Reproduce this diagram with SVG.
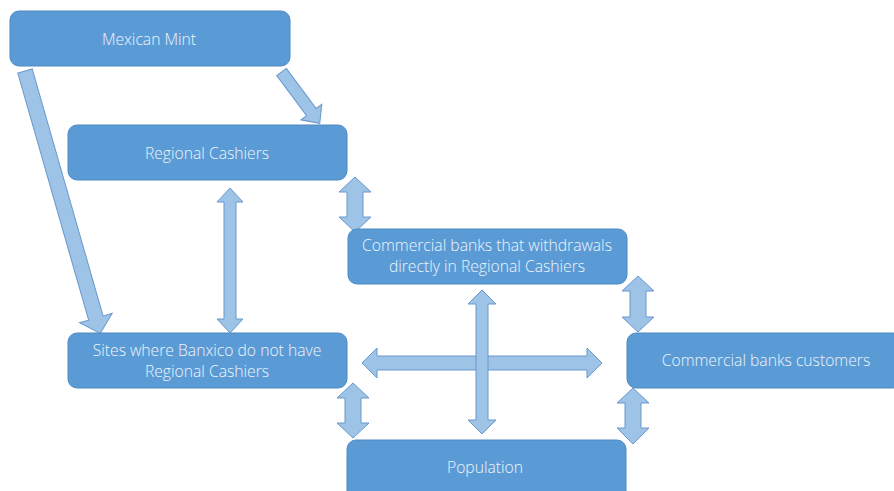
<svg xmlns="http://www.w3.org/2000/svg" width="894" height="491" viewBox="0 0 894 491">
<style>
.box{fill:#5b9bd5;stroke:#4e89c2;stroke-width:1}
.t{font-family:"Open Sans","Liberation Sans",Arial,sans-serif;font-size:15.7px;font-weight:300;fill:#eef4fb;text-anchor:middle}
.ar{fill:#9dc3e6;stroke:#6a98cc;stroke-width:1;stroke-linejoin:miter}
</style>
<rect width="894" height="491" fill="#ffffff"/>
<g id="connectors">
<polygon class="ar" transform="translate(281.5,72) rotate(53.3)" points="0,-6 50,-6 50,-13 64,0 50,13 50,6 0,6"/>
<polygon class="ar" transform="translate(25,71) rotate(74)" points="0,-7.5 257,-7.5 257,-17 273,0 257,17 257,7.5 0,7.5"/>
<polygon class="ar" points="230,188 243,202 236,202 236,319 243,319 230,333 217,319 224,319 224,202 217,202"/>
<polygon class="ar" points="355,177 371,192 363,192 363,217 371,217 355,232 339,217 347,217 347,192 339,192"/>
<polygon class="ar" points="638,276 654,291 646,291 646,317 654,317 638,332 622,317 630,317 630,291 622,291"/>
<polygon class="ar" points="633,388 649,403 641,403 641,428 649,428 633,444 617,428 625,428 625,403 617,403"/>
<polygon class="ar" points="353,383 369,398 361,398 361,423 369,423 353,438 337,423 345,423 345,398 337,398"/>
<polygon class="ar" points="362,363 377,348 377,356 587,356 587,348 602,363 587,378 587,370 377,370 377,378"/>
<polygon class="ar" points="482,290 496,304 488,304 488,420 496,420 482,434 468,420 476,420 476,304 468,304"/>
</g>
<g id="mint">
<rect class="box" x="10" y="11" width="280" height="55" rx="9"/>
<text class="t" x="149" y="45">Mexican Mint</text>
</g>
<g id="regional">
<rect class="box" x="68" y="125" width="279" height="55" rx="9"/>
<text class="t" x="207" y="159">Regional Cashiers</text>
</g>
<g id="commercial-withdrawals">
<rect class="box" x="348" y="229" width="279" height="55" rx="9"/>
<text class="t" x="487" y="251">Commercial banks that withdrawals</text>
<text class="t" x="487" y="272">directly in Regional Cashiers</text>
</g>
<g id="sites">
<rect class="box" x="68" y="333" width="279" height="55" rx="9"/>
<text class="t" x="207" y="356">Sites where Banxico do not have</text>
<text class="t" x="207" y="377">Regional Cashiers</text>
</g>
<g id="customers">
<rect class="box" x="627" y="333" width="275" height="55" rx="9"/>
<text class="t" x="766" y="366">Commercial banks customers</text>
</g>
<g id="population">
<rect class="box" x="347" y="440" width="279" height="60" rx="9"/>
<text class="t" x="485" y="473">Population</text>
</g>
</svg>
